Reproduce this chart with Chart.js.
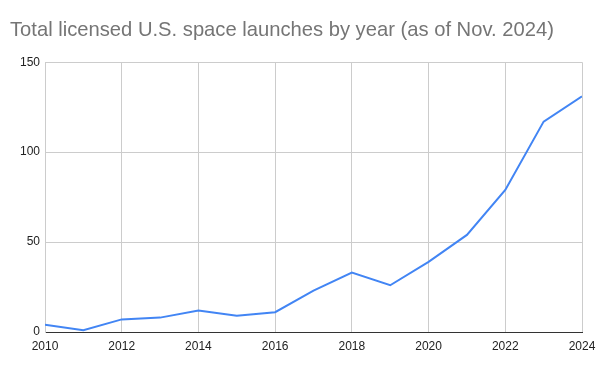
<!DOCTYPE html>
<html>
<head>
<meta charset="utf-8">
<script src="https://cdn.jsdelivr.net/npm/chart.js@4/dist/chart.umd.min.js"></script>
<style>
  html, body { margin: 0; padding: 0; background: #fff; }
  #wrap { width: 600px; height: 371px; }
</style>
</head>
<body>
<div id="wrap"><canvas id="launchesChart"></canvas></div>
<script>
// data
var years = [2010, 2011, 2012, 2013, 2014, 2015, 2016, 2017, 2018, 2019, 2020, 2021, 2022, 2023, 2024];
var launches = [4, 1, 7, 8, 12, 9, 11, 23, 33, 26, 39, 54, 79, 117, 131];
var yTicks = [0, 50, 100, 150];
var titleText = 'Total licensed U.S. space launches by year (as of Nov. 2024)';

var points = [];
for (var i = 0; i < years.length; i++) {
    points.push({ x: years[i], y: launches[i] });
}

Chart.defaults.font.family = "'Liberation Sans', Arial, sans-serif";

var ctx = document.getElementById('launchesChart').getContext('2d');

new Chart(ctx, {
    type: 'line',
    data: {
        datasets: [{
            data: points,
            borderColor: '#4285f4',
            borderWidth: 2,
            pointRadius: 0,
            tension: 0,
            fill: false
        }]
    },
    options: {
        responsive: true,
        maintainAspectRatio: false,
        animation: false,
        layout: { padding: { left: 10, right: 0, top: 0, bottom: 0 } },
        plugins: {
            legend: { display: false },
            tooltip: { enabled: false },
            title: {
                display: true,
                text: titleText,
                align: 'start',
                color: '#757575',
                font: { size: 20.2, weight: 'normal' },
                padding: { top: 18, bottom: 20 }
            }
        },
        scales: {
            x: {
                type: 'linear',
                min: 2010,
                max: 2024,
                afterFit: function (scale) {
                    scale.height = 39;
                    scale.paddingRight = 18;
                },
                ticks: {
                    stepSize: 2,
                    color: '#222',
                    font: { size: 12 },
                    padding: 7,
                    maxRotation: 0,
                    callback: function (v) { return String(v); }
                },
                grid: { color: '#cccccc', drawTicks: false },
                border: { color: '#333333', width: 1 }
            },
            y: {
                min: 0,
                max: 150,
                afterFit: function (scale) { scale.width = 35; },
                afterBuildTicks: function (scale) {
                    scale.ticks = yTicks.map(function (v) { return { value: v }; });
                },
                ticks: {
                    color: '#222',
                    font: { size: 12 },
                    padding: 5
                },
                grid: { color: '#cccccc', drawTicks: false },
                border: { color: '#cccccc' }
            }
        }
    }
});
</script>
</body>
</html>
